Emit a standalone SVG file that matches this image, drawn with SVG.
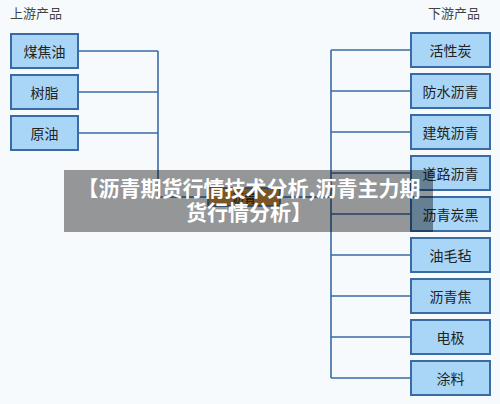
<svg xmlns="http://www.w3.org/2000/svg" width="500" height="404" viewBox="0 0 500 404">
<style>
.bx{fill:#A9D5F6;stroke:#3A6CA3;stroke-width:2}
.t{font-family:"Noto Sans CJK SC","Noto Sans",sans-serif;font-size:14px;fill:#222;text-anchor:middle;dominant-baseline:central}
.h{font-family:"Noto Sans CJK SC","Noto Sans",sans-serif;font-size:13px;fill:#444}
.ln{stroke:#3A6CA3;stroke-width:1.6;fill:none}
.ov{font-family:"Noto Sans CJK SC","Noto Sans",sans-serif;font-size:21px;font-weight:bold;fill:#fff;text-anchor:middle}
</style>
<rect width="500" height="404" fill="#F7FAFD"/>
<text class="h" x="10" y="18">上游产品</text>
<text class="h" x="480" y="18" text-anchor="end">下游产品</text>
<g id="connectors">
<path class="ln" d="M78 51H158M78 92H158M78 133H158M158 51V197H208M280 197H331M331 50V378M331 50H411M331 91H411M331 132H411M331 173H411M331 214H411M331 255H411M331 296H411M331 337H411M331 378H411"/>
</g>
<g id="n-meijiaoyou"><rect class="bx" x="11" y="34" width="67" height="34"/><text class="t" x="44.5" y="51">煤焦油</text></g>
<g id="n-shuzhi"><rect class="bx" x="11" y="75" width="67" height="34"/><text class="t" x="44.5" y="92">树脂</text></g>
<g id="n-yuanyou"><rect class="bx" x="11" y="116" width="67" height="34"/><text class="t" x="44.5" y="133">原油</text></g>
<g id="n-liqing"><rect x="208" y="188" width="72" height="18" fill="#C9913F" stroke="#3A6CA3" stroke-width="1.6"/><text class="t" x="244" y="197" style="font-size:12px">沥青</text></g>
<g id="n-1"><rect class="bx" x="411" y="33" width="79" height="34"/><text class="t" x="450.5" y="50">活性炭</text></g>
<g id="n-2"><rect class="bx" x="411" y="74" width="79" height="34"/><text class="t" x="450.5" y="91">防水沥青</text></g>
<g id="n-3"><rect class="bx" x="411" y="115" width="79" height="34"/><text class="t" x="450.5" y="132">建筑沥青</text></g>
<g id="n-4"><rect class="bx" x="411" y="156" width="79" height="34"/><text class="t" x="450.5" y="173">道路沥青</text></g>
<g id="n-5"><rect class="bx" x="411" y="197" width="79" height="34"/><text class="t" x="450.5" y="214">沥青炭黑</text></g>
<g id="n-6"><rect class="bx" x="411" y="238" width="79" height="34"/><text class="t" x="450.5" y="255">油毛毡</text></g>
<g id="n-7"><rect class="bx" x="411" y="279" width="79" height="34"/><text class="t" x="450.5" y="296">沥青焦</text></g>
<g id="n-8"><rect class="bx" x="411" y="320" width="79" height="34"/><text class="t" x="450.5" y="337">电极</text></g>
<g id="n-9"><rect class="bx" x="411" y="361" width="79" height="34"/><text class="t" x="450.5" y="378">涂料</text></g>
<g id="overlay">
<rect x="64" y="170" width="369" height="62" fill="#000" fill-opacity="0.4"/>
<text class="ov" x="249" y="196">【沥青期货行情技术分析,沥青主力期</text>
<text class="ov" x="249" y="220">货行情分析】</text>
</g>
</svg>
